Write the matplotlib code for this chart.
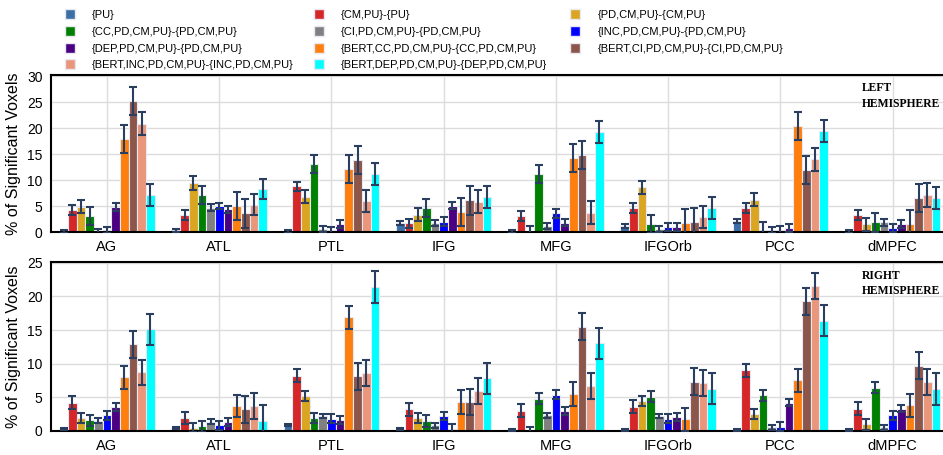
import numpy as np
import matplotlib.pyplot as plt
from matplotlib.lines import Line2D

# ── Data ─────────────────────────────────────────────────────────────────────
regions = ['AG', 'ATL', 'PTL', 'IFG', 'MFG', 'IFGOrb', 'PCC', 'dMPFC']

series = ['{PU}', '{CM,PU}-{PU}', '{PD,CM,PU}-{CM,PU}',
          '{CC,PD,CM,PU}-{PD,CM,PU}', '{CI,PD,CM,PU}-{PD,CM,PU}',
          '{INC,PD,CM,PU}-{PD,CM,PU}', '{DEP,PD,CM,PU}-{PD,CM,PU}',
          '{BERT,CC,PD,CM,PU}-{CC,PD,CM,PU}', '{BERT,CI,PD,CM,PU}-{CI,PD,CM,PU}',
          '{BERT,INC,PD,CM,PU}-{INC,PD,CM,PU}', '{BERT,DEP,PD,CM,PU}-{DEP,PD,CM,PU}']

colors = ['#3a6ea5', '#d62728', '#daa520', '#008000', '#808080', '#0000ff',
          '#4b0082', '#ff7f0e', '#8c564b', '#e9967a', '#00ffff']

# left hemisphere: one row per series, one column per region
left_mean = [
    [0.1, 0.3, 0.1, 1.7, 0.1, 1.15, 2.1, 0.1],
    [4.2, 3.3, 8.8, 1.7, 3.1, 4.6, 4.6, 3.3],
    [4.9, 9.4, 6.8, 3.3, 0.0, 8.6, 6.2, 1.5],
    [3.1, 7.1, 13.1, 4.6, 11.2, 1.5, 0.3, 1.9],
    [0.0, 4.7, 0.6, 1.7, 1.1, 0.6, 0.45, 1.9],
    [0.45, 5.0, 0.3, 2.0, 3.6, 1.0, 0.45, 0.8],
    [4.8, 4.4, 1.5, 5.1, 1.8, 1.0, 0.8, 1.5],
    [17.9, 5.0, 12.1, 3.8, 14.2, 1.7, 20.4, 1.6],
    [25.3, 3.6, 13.9, 6.1, 14.8, 2.0, 11.9, 6.5],
    [20.8, 5.3, 6.0, 5.8, 3.7, 2.9, 14.0, 7.1],
    [7.1, 8.3, 11.2, 6.7, 19.2, 4.55, 19.4, 6.5],
]
left_err = [
    [0.3, 0.3, 0.3, 0.4, 0.3, 0.4, 0.4, 0.3],
    [1.0, 0.9, 0.9, 0.9, 0.9, 1.0, 0.95, 0.9],
    [1.25, 1.3, 1.2, 1.25, 1.15, 1.2, 1.25, 1.25],
    [1.7, 1.7, 1.7, 1.8, 1.7, 1.7, 1.7, 1.8],
    [0.6, 0.65, 0.6, 0.55, 0.6, 0.55, 0.6, 0.7],
    [0.6, 0.65, 0.6, 0.8, 0.85, 0.8, 0.8, 0.8],
    [0.8, 0.7, 0.75, 0.75, 0.7, 0.75, 0.75, 0.75],
    [2.7, 2.7, 2.7, 2.7, 2.7, 2.7, 2.7, 2.7],
    [2.7, 2.8, 2.7, 2.8, 2.7, 2.7, 2.7, 2.7],
    [2.2, 2.1, 2.1, 2.2, 2.2, 2.2, 2.2, 2.3],
    [2.1, 2.0, 2.1, 2.1, 2.1, 2.1, 2.1, 2.1],
]

# right hemisphere
right_mean = [
    [0.3, 0.45, 0.85, 0.3, 0.1, 0.1, 0.1, 0.1],
    [4.2, 1.9, 8.2, 3.2, 3.0, 3.6, 9.0, 3.3],
    [1.9, 0.5, 5.2, 1.9, 0.0, 4.5, 2.5, 0.95],
    [1.6, 0.7, 1.9, 1.5, 4.8, 5.1, 5.3, 6.4],
    [1.5, 1.35, 2.2, 0.85, 2.3, 2.2, 0.55, 0.55],
    [2.3, 0.85, 1.8, 2.2, 5.4, 1.8, 0.65, 2.3],
    [3.5, 1.35, 1.6, 0.35, 3.0, 2.0, 4.2, 3.3],
    [8.0, 3.7, 16.9, 4.3, 5.5, 1.7, 7.5, 3.8],
    [12.9, 3.2, 8.1, 4.3, 15.5, 7.3, 19.3, 9.7],
    [8.7, 3.7, 8.6, 5.9, 6.7, 7.1, 21.6, 7.3],
    [15.1, 1.5, 21.4, 7.8, 13.0, 6.3, 16.4, 6.2],
]
right_err = [
    [0.15, 0.15, 0.15, 0.15, 0.15, 0.15, 0.15, 0.15],
    [0.95, 0.95, 0.95, 0.95, 0.95, 0.95, 0.95, 0.95],
    [0.75, 0.7, 0.75, 0.75, 0.6, 0.75, 0.75, 0.75],
    [0.8, 0.8, 0.8, 0.85, 0.85, 0.8, 0.85, 0.8],
    [0.4, 0.35, 0.35, 0.35, 0.35, 0.35, 0.35, 0.35],
    [0.65, 0.65, 0.65, 0.65, 0.65, 0.65, 0.65, 0.65],
    [0.6, 0.55, 0.6, 0.6, 0.6, 0.6, 0.55, 0.55],
    [1.7, 1.7, 1.7, 1.75, 1.75, 1.75, 1.7, 1.7],
    [2.0, 2.0, 2.0, 2.0, 2.0, 2.0, 2.0, 2.0],
    [1.9, 1.9, 1.9, 1.95, 1.9, 1.95, 1.95, 1.95],
    [2.3, 2.4, 2.4, 2.35, 2.35, 2.35, 2.35, 2.35],
]

# ── Figure ───────────────────────────────────────────────────────────────────
plt.rcParams['font.family'] = ['Liberation Sans', 'DejaVu Sans']
fig = plt.figure(figsize=(9.43, 4.55), dpi=100)

ax_l = fig.add_axes([0.054, 0.490, 0.952, 0.345])
ax_r = fig.add_axes([0.054, 0.053, 0.952, 0.371])

x = np.arange(len(regions))
width = 0.0774


def draw_panel(ax, means, errs, ymax, label):
    for i, (m, e, c) in enumerate(zip(means, errs, colors)):
        ax.bar(x + (i - 5) * width, m, width, yerr=e, color=c,
               edgecolor='#e8e8f2', linewidth=0.8, zorder=2,
               error_kw=dict(ecolor='#2a3f5f', elinewidth=1.5,
                             capsize=2.8, capthick=1.5, zorder=3))
    ax.set_xlim(-0.5, len(regions) - 0.5)
    ax.set_ylim(0, ymax)
    ax.set_yticks(np.arange(0, ymax, 5))
    ax.set_xticks(x)
    ax.set_xticklabels(regions, fontsize=10.5)
    ax.tick_params(axis='both', length=0, pad=6)
    ax.tick_params(axis='y', labelsize=10)
    ax.grid(True, color='#dcdcdc', linewidth=1, zorder=0)
    ax.set_axisbelow(True)
    for s in ax.spines.values():
        s.set_linewidth(1.5)
        s.set_color('black')
    ax.set_ylabel('% of Significant Voxels', fontsize=11.5, labelpad=4)
    ax.text(0.903, 0.955, label, transform=ax.transAxes, ha='left', va='top',
            fontsize=8.4, fontweight='bold', family='Liberation Serif',
            linespacing=1.4)


draw_panel(ax_l, left_mean, left_err, 30.2, 'LEFT\nHEMISPHERE')
draw_panel(ax_r, right_mean, right_err, 25.1, 'RIGHT\nHEMISPHERE')

# ── Legend: three columns, row-major order ───────────────────────────────────
handles = [Line2D([], [], marker='s', linestyle='none', markersize=7,
                  markerfacecolor=c, markeredgecolor='#e8e8f2')
           for c in colors]
col_x = [0.061, 0.325, 0.597]
for col in range(3):
    idx = list(range(col, len(series), 3))
    fig.legend([handles[k] for k in idx], [series[k] for k in idx],
               loc='upper left', bbox_to_anchor=(col_x[col], 0.992),
               frameon=False, handlelength=1.0,
               handletextpad=1.5, labelspacing=0.6, borderaxespad=0.2,
               prop={'family': ['Liberation Sans Narrow', 'Liberation Sans'],
                     'size': 8})

fig.savefig('out.png', dpi=100)
